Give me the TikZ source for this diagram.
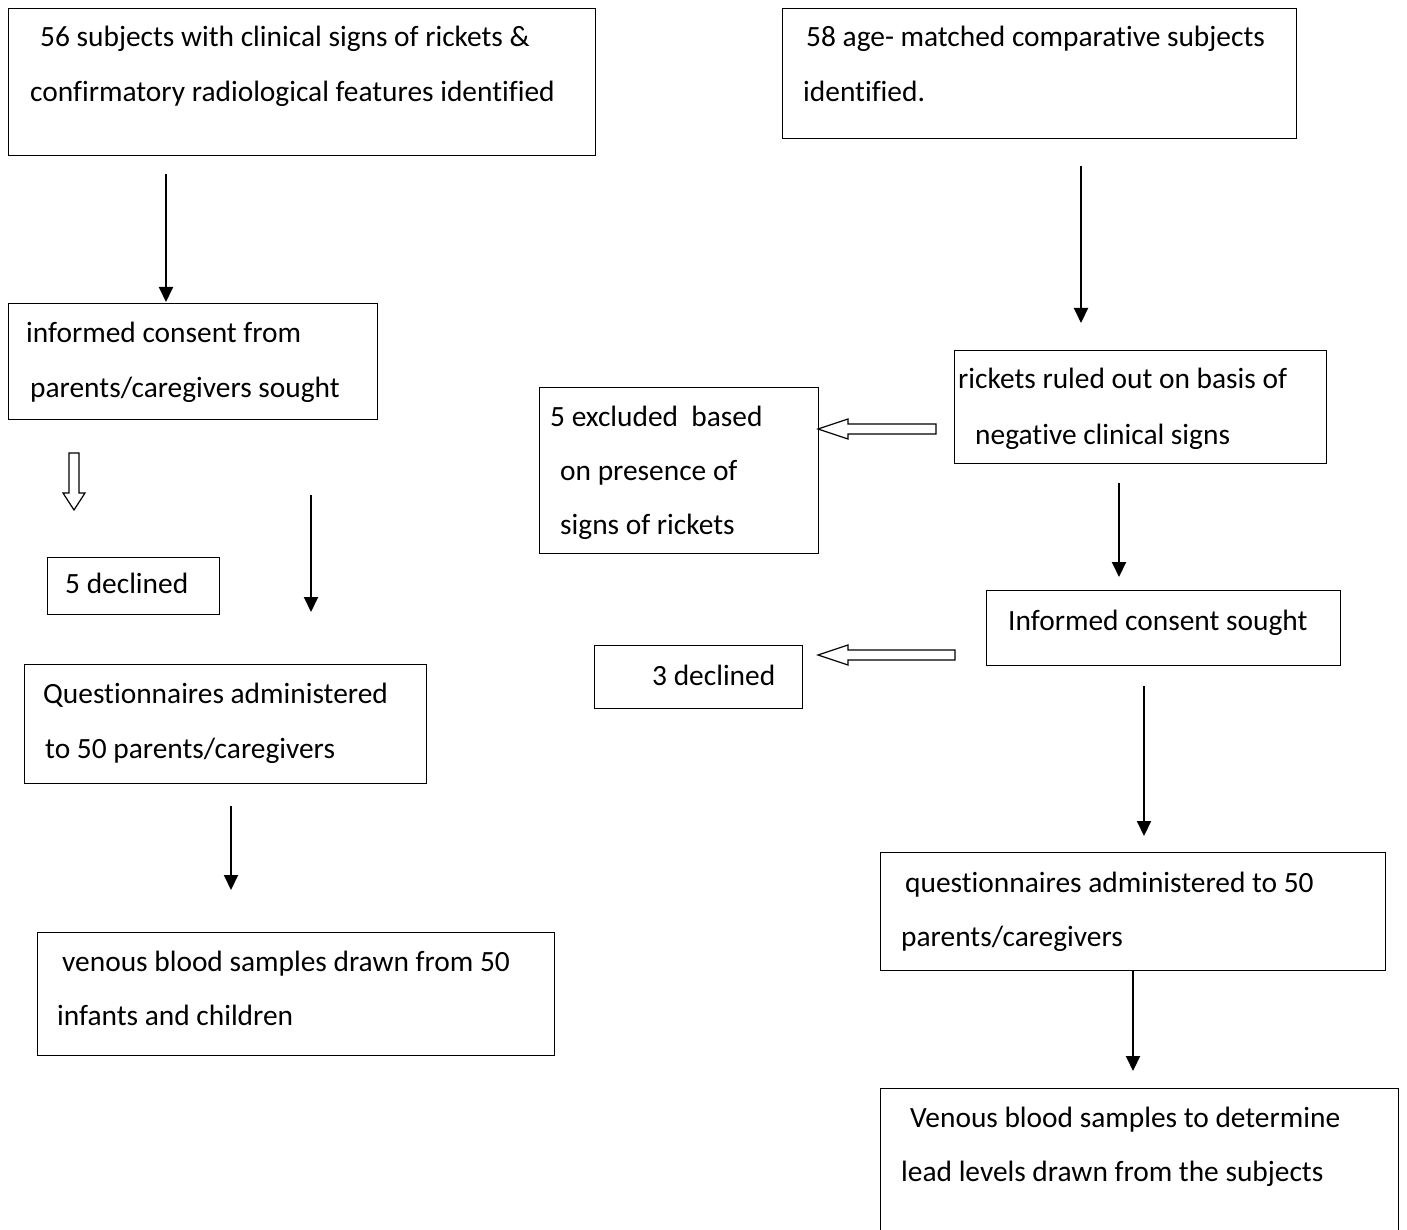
\documentclass[tikz,border=0pt]{standalone}
\usepackage{fontspec}
\setmainfont[Ligatures=CommonOff]{Carlito}
\usetikzlibrary{arrows.meta}
\begin{document}
\begin{tikzpicture}[x=1pt,y=-1pt,
  box/.style={draw,line width=1.4pt,inner sep=0pt,anchor=north west},
  txt/.style={anchor=base west,inner sep=0pt,font=\fontsize{29.4}{34}\selectfont},
  arr/.style={line width=2pt,-{Triangle[length=15pt,width=14pt]}},
  hollow/.style={draw,line width=1.2pt,fill=white,line join=miter}]
\useasboundingbox (0,0) rectangle (1407,1230);
% boxes
\node[box,minimum width=587pt,minimum height=147pt] (A) at (8,8) {};
\node[box,minimum width=514pt,minimum height=130pt] (B) at (782,8) {};
\node[box,minimum width=369pt,minimum height=116pt] (C) at (8,303) {};
\node[box,minimum width=372pt,minimum height=113pt] (D) at (954,350) {};
\node[box,minimum width=279pt,minimum height=166pt] (E) at (539,387) {};
\node[box,minimum width=172pt,minimum height=57pt] (F) at (47,557) {};
\node[box,minimum width=402pt,minimum height=119pt] (G) at (24,664) {};
\node[box,minimum width=354pt,minimum height=75pt] (H) at (986,590) {};
\node[box,minimum width=208pt,minimum height=63pt] (I) at (594,645) {};
\node[box,minimum width=505pt,minimum height=118pt] (J) at (880,852) {};
\node[box,minimum width=517pt,minimum height=123pt] (K) at (37,932) {};
\node[box,minimum width=518pt,minimum height=160pt] (L) at (880,1088) {};
% texts
\node[txt] (a1) at (40,47) {56 subjects with clinical signs of rickets \&};
\node[txt] (a2) at (30,102) {confirmatory radiological features identified};
\node[txt] (b1) at (806,47) {58 age- matched comparative subjects};
\node[txt] (b2) at (803,102) {identified.};
\node[txt] (c1) at (26,342) {informed consent from};
\node[txt] (c2) at (30,397) {parents/caregivers sought};
\node[txt] (d1) at (958,388) {rickets ruled out on basis of};
\node[txt] (d2) at (975,444) {negative clinical signs};
\node[txt] (e1) at (550,426) {5 excluded\ \ based};
\node[txt] (e2) at (560,480) {on presence of};
\node[txt] (e3) at (560,534) {signs of rickets};
\node[txt] (f1) at (65,593) {5 declined};
\node[txt] (g1) at (43,703) {Questionnaires administered};
\node[txt] (g2) at (45,758) {to 50 parents/caregivers};
\node[txt] (h1) at (1008,630) {Informed consent sought};
\node[txt] (i1) at (652,685) {3 declined};
\node[txt] (j1) at (905,892) {questionnaires administered to 50};
\node[txt] (j2) at (901,946) {parents/caregivers};
\node[txt] (k1) at (62,971) {venous blood samples drawn from 50};
\node[txt] (k2) at (57,1025) {infants and children};
\node[txt] (l1) at (910,1127) {Venous blood samples to determine};
\node[txt] (l2) at (901,1181) {lead levels drawn from the subjects};
% solid arrows
\draw[arr,shorten <=18pt,shorten >=1pt] (A.south -| 166,0) -- (C.north -| 166,0);
\draw[arr,shorten <=27pt,shorten >=27pt] (B.south -| 1081,0) -- (D.north -| 1081,0);
\draw[arr,shorten <=75pt,shorten >=52pt] (C.south -| 311,0) -- (G.north -| 311,0);
\draw[arr,shorten <=19pt,shorten >=13pt] (D.south -| 1119,0) -- (H.north -| 1119,0);
\draw[arr,shorten <=20pt,shorten >=16pt] (H.south -| 1144,0) -- (J.north -| 1144,0);
\draw[arr,shorten <=22pt,shorten >=42pt] (G.south -| 231,0) -- (K.north -| 231,0);
\draw[arr,shorten <=0pt,shorten >=17pt] (J.south -| 1133,0) -- (L.north -| 1133,0);
% hollow arrows
\draw[hollow] (69,453) -- (79,453) -- (79,493) -- (85,493) -- (74,510) -- (63,493) -- (69,493) -- cycle;
\draw[hollow] (936,424) -- (848,424) -- (848,419) -- (818,429) -- (848,439) -- (848,434) -- (936,434) -- cycle;
\draw[hollow] (955,650) -- (848,650) -- (848,645) -- (818,655) -- (848,665) -- (848,660) -- (955,660) -- cycle;
\end{tikzpicture}
\end{document}
